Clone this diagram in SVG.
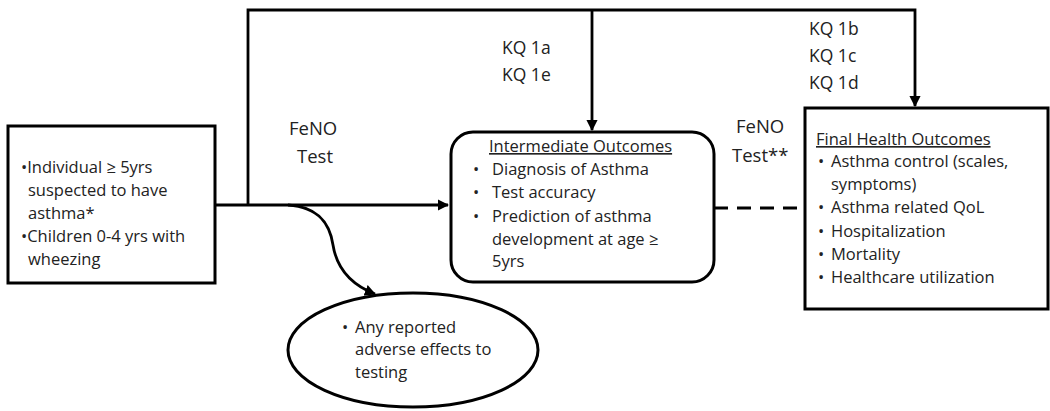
<svg xmlns="http://www.w3.org/2000/svg" width="1050" height="411" viewBox="0 0 1050 411">
<defs>
<style>
text{font-family:"Open Sans","Noto Sans",sans-serif;font-size:16.5px;fill:#222}
.big{font-size:18.5px}
.kq{font-size:17.5px}
.box{fill:#fff;stroke:#000;stroke-width:3}
.ln{fill:none;stroke:#000;stroke-width:2.8}
</style>
<marker id="ah" viewBox="0 0 10 10" refX="9" refY="5" markerWidth="4" markerHeight="4" orient="auto" markerUnits="strokeWidth">
<path d="M0,0 L10,5 L0,10 z" fill="#000"/>
</marker>
</defs>
<rect width="1050" height="411" fill="#fff"/>
<g id="connectors">
<path class="ln" d="M215,205 H448" marker-end="url(#ah)"/>
<path class="ln" d="M248,205 V10 H915 V106" marker-end="url(#ah)"/>
<path class="ln" d="M592,10 V130" marker-end="url(#ah)"/>
<path class="ln" d="M288,205 C320,207 330,225 333,245 C337,270 352,285 375,294" marker-end="url(#ah)"/>
<path class="ln" d="M714,208 H805" stroke-dasharray="14,9" style="stroke-width:3"/>
</g>
<g id="population">
<rect class="box" x="8" y="126" width="207" height="157"/>
<text x="21" y="173">•Individual ≥ 5yrs</text>
<text x="28" y="196">suspected to have</text>
<text x="28" y="219">asthma*</text>
<text x="21" y="242">•Children 0-4 yrs with</text>
<text x="28" y="265">wheezing</text>
</g>
<g id="intermediate">
<rect class="box" x="451" y="132" width="263" height="150" rx="22"/>
<text x="489" y="152" text-decoration="underline">Intermediate Outcomes</text>
<text x="473" y="175">•</text><text x="492" y="175">Diagnosis of Asthma</text>
<text x="473" y="198">•</text><text x="492" y="198">Test accuracy</text>
<text x="473" y="222">•</text><text x="492" y="222">Prediction of asthma</text>
<text x="492" y="245">development at age ≥</text>
<text x="492" y="267">5yrs</text>
</g>
<g id="final">
<rect class="box" x="805" y="108" width="243" height="201"/>
<text x="816" y="145" text-decoration="underline">Final Health Outcomes</text>
<text x="818" y="167">•</text><text x="831" y="167">Asthma control (scales,</text>
<text x="831" y="190">symptoms)</text>
<text x="818" y="213">•</text><text x="831" y="213">Asthma related QoL</text>
<text x="818" y="237">•</text><text x="831" y="237">Hospitalization</text>
<text x="818" y="260">•</text><text x="831" y="260">Mortality</text>
<text x="818" y="283">•</text><text x="831" y="283">Healthcare utilization</text>
</g>
<g id="adverse">
<ellipse class="box" cx="413" cy="350" rx="125" ry="57"/>
<text x="342" y="333">•</text><text x="355" y="333">Any reported</text>
<text x="355" y="355">adverse effects to</text>
<text x="355" y="378">testing</text>
</g>
<g id="labels">
<text class="big" x="289" y="135">FeNO</text>
<text class="big" x="297" y="163">Test</text>
<text class="big" x="736" y="133">FeNO</text>
<text class="big" x="732" y="162">Test**</text>
<text class="kq" x="502" y="54">KQ 1a</text>
<text class="kq" x="502" y="81">KQ 1e</text>
<text class="kq" x="809" y="35">KQ 1b</text>
<text class="kq" x="809" y="62">KQ 1c</text>
<text class="kq" x="809" y="89">KQ 1d</text>
</g>
</svg>
